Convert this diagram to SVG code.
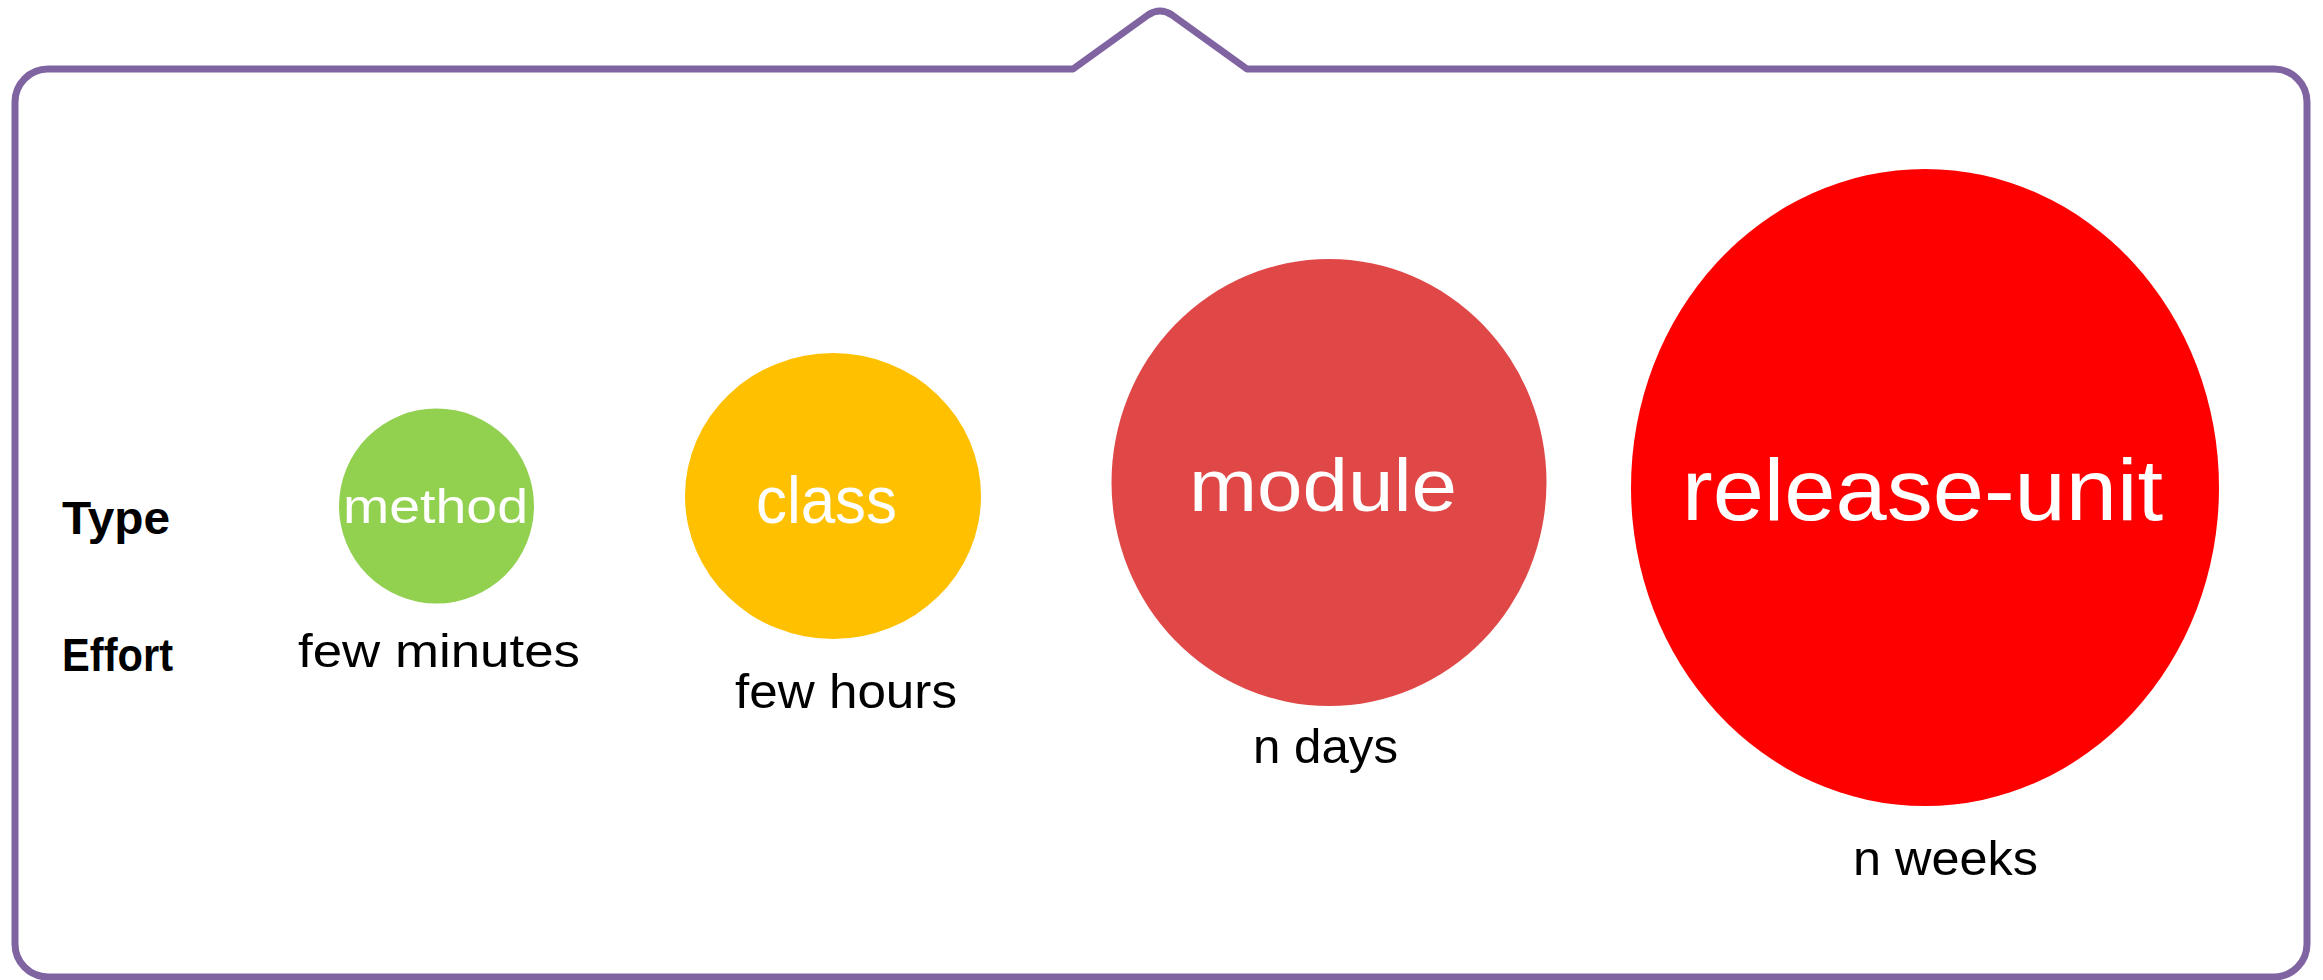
<svg xmlns="http://www.w3.org/2000/svg" width="2323" height="980" viewBox="0 0 2323 980">
<style>
.frame{fill:#ffffff;stroke:#8064A2;stroke-width:7;stroke-linejoin:round}
.lbl{font-family:"Liberation Sans",Arial,sans-serif;fill:#000000}
.hdr{font-family:"Liberation Sans",Arial,sans-serif;font-weight:bold;fill:#000000}
.in{font-family:"Liberation Sans",Arial,sans-serif;fill:#ffffff}
</style>
<rect width="2323" height="980" fill="#ffffff"/>
<g id="frame">
<path class="frame" d="M 48 69 H 1073 L 1148 15 Q 1160 7 1172 15 L 1247 69 H 2274 A 33 33 0 0 1 2307 102 V 944 A 33 33 0 0 1 2274 977 H 48 A 33 33 0 0 1 15 944 V 102 A 33 33 0 0 1 48 69 Z"/>
</g>
<g id="legend">
<text class="hdr" x="62" y="534" font-size="46" textLength="108" lengthAdjust="spacingAndGlyphs">Type</text>
<text class="hdr" x="62" y="671" font-size="46" textLength="111" lengthAdjust="spacingAndGlyphs">Effort</text>
</g>
<g id="node-method">
<ellipse cx="436.5" cy="506" rx="97.5" ry="97.5" fill="#92D050"/>
<text class="in" x="343" y="523" font-size="49" textLength="185" lengthAdjust="spacingAndGlyphs">method</text>
<text class="lbl" x="298" y="667" font-size="47" textLength="282" lengthAdjust="spacingAndGlyphs">few minutes</text>
</g>
<g id="node-class">
<ellipse cx="833" cy="496" rx="148" ry="143" fill="#FFC000"/>
<text class="in" x="756" y="523" font-size="66" textLength="141" lengthAdjust="spacingAndGlyphs">class</text>
<text class="lbl" x="735" y="708" font-size="48" textLength="222" lengthAdjust="spacingAndGlyphs">few hours</text>
</g>
<g id="node-module">
<ellipse cx="1329" cy="482.5" rx="217.5" ry="223.5" fill="#E04848"/>
<text class="in" x="1189" y="511" font-size="75" textLength="268" lengthAdjust="spacingAndGlyphs">module</text>
<text class="lbl" x="1253" y="763" font-size="48" textLength="145" lengthAdjust="spacingAndGlyphs">n days</text>
</g>
<g id="node-release-unit">
<ellipse cx="1925" cy="487.5" rx="294" ry="318.5" fill="#FF0000"/>
<text class="in" x="1682" y="520" font-size="88" textLength="481" lengthAdjust="spacingAndGlyphs">release-unit</text>
<text class="lbl" x="1853" y="875" font-size="49" textLength="185" lengthAdjust="spacingAndGlyphs">n weeks</text>
</g>
<g id="connectors"></g>
</svg>
